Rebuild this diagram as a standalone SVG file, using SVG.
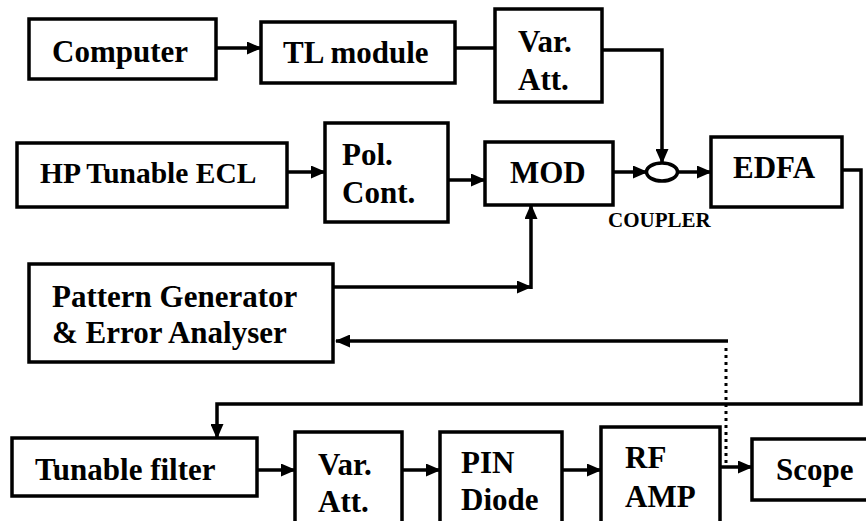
<svg xmlns="http://www.w3.org/2000/svg" width="866" height="521" viewBox="0 0 866 521">
<style>
.box{fill:#fff;stroke:#000;stroke-width:3.5}
.t{font-family:'Liberation Serif','Times New Roman',Tinos,'DejaVu Serif',serif;font-weight:700;font-size:31px;fill:#000}
.c{fill:none;stroke:#000;stroke-width:3.5}
.a{marker-end:url(#ah)}
.dot{fill:none;stroke:#000;stroke-width:3;stroke-dasharray:3 4}
</style>
<defs>
<marker id="ah" markerUnits="userSpaceOnUse" markerWidth="15" markerHeight="13" refX="14" refY="6.5" orient="auto">
<path d="M0,0 L15,6.5 L0,13 z" fill="#000"/>
</marker>
</defs>
<rect width="866" height="521" fill="#fff"/>
<g id="connectors">
<path class="c a" d="M216,48 H261"/>
<path class="c" d="M455,48 H495"/>
<path class="c a" d="M602,50 H662 V163"/>
<path class="c a" d="M287,172 H325"/>
<path class="c a" d="M448,180 H485"/>
<path class="c a" d="M613,172 H647"/>
<path class="c a" d="M678,172 H711"/>
<path class="c a" d="M842,170 H861 V404 H217 V438"/>
<path class="c a" d="M333,287 H531"/>
<path class="c a" d="M531,289 V205"/>
<path class="dot" d="M726,463 V344"/>
<path class="c a" d="M728,341 H336"/>
<path class="c a" d="M257,470 H295"/>
<path class="c a" d="M402,470 H440"/>
<path class="c a" d="M562,470 H601"/>
<path class="c a" d="M720,467 H752"/>
</g>
<g id="computer"><rect class="box" x="29" y="19" width="187" height="60"/><text class="t" x="52" y="62" font-family="Liberation Serif, serif">Computer</text></g>
<g id="tl-module"><rect class="box" x="261" y="22" width="194" height="61"/><text class="t" x="283" y="63">TL module</text></g>
<g id="var-att-top"><rect class="box" x="495" y="9" width="107" height="93"/><text class="t" x="518" y="52">Var.</text><text class="t" x="518" y="90">Att.</text></g>
<g id="hp-ecl"><rect class="box" x="17" y="143" width="270" height="64"/><text class="t" x="40" y="183" style="font-size:29.5px">HP Tunable ECL</text></g>
<g id="pol-cont"><rect class="box" x="325" y="123" width="123" height="99"/><text class="t" x="342" y="165">Pol.</text><text class="t" x="342" y="203">Cont.</text></g>
<g id="mod"><rect class="box" x="485" y="142" width="128" height="63"/><text class="t" x="510" y="183">MOD</text></g>
<g id="coupler"><ellipse cx="662" cy="172" rx="15.5" ry="9" fill="#fff" stroke="#000" stroke-width="3.5"/><text class="t" x="608" y="227" style="font-size:21px">COUPLER</text></g>
<g id="edfa"><rect class="box" x="711" y="137" width="131" height="70"/><text class="t" x="733" y="178">EDFA</text></g>
<g id="pattern-gen"><rect class="box" x="29" y="264" width="304" height="98"/><text class="t" x="52" y="307">Pattern Generator</text><text class="t" x="52" y="343">&amp; Error Analyser</text></g>
<g id="tunable-filter"><rect class="box" x="12" y="438" width="245" height="58"/><text class="t" x="35" y="480">Tunable filter</text></g>
<g id="var-att-bottom"><rect class="box" x="295" y="432" width="107" height="100"/><text class="t" x="318" y="475">Var.</text><text class="t" x="318" y="512">Att.</text></g>
<g id="pin-diode"><rect class="box" x="440" y="432" width="122" height="100"/><text class="t" x="461" y="473">PIN</text><text class="t" x="461" y="510">Diode</text></g>
<g id="rf-amp"><rect class="box" x="601" y="427" width="119" height="105"/><text class="t" x="625" y="468">RF</text><text class="t" x="625" y="507">AMP</text></g>
<g id="scope"><rect class="box" x="752" y="439" width="130" height="61"/><text class="t" x="776" y="480">Scope</text></g>
</svg>
